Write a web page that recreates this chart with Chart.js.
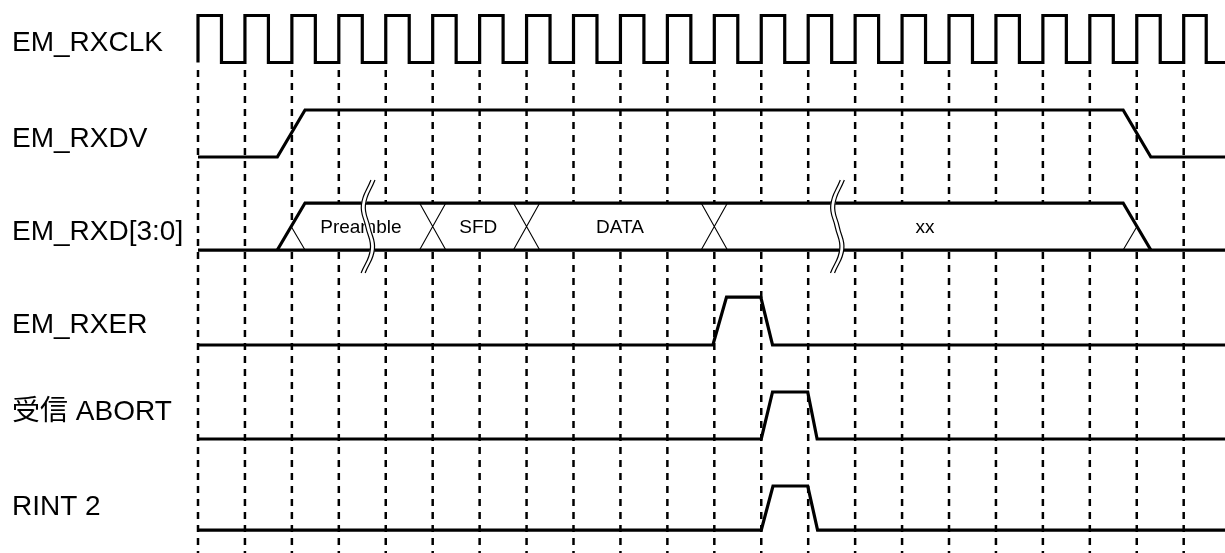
<!DOCTYPE html>
<html>
<head>
<meta charset="utf-8">
<script src="https://cdn.jsdelivr.net/npm/chart.js@4.4.0/dist/chart.umd.min.js"></script>
<style>
html, body { margin: 0; padding: 0; background: #fff; }
#wrap { width: 1225px; height: 553px; }
</style>
</head>
<body>
<div id="wrap"><canvas id="myChart"></canvas></div>
<script>
// signal names, top to bottom
var signalNames = ['EM_RXCLK', 'EM_RXDV', 'EM_RXD[3:0]', 'EM_RXER', '受信 ABORT', 'RINT 2'];

// time is in clock periods, counted from the first rising edge of EM_RXCLK
var clkRise = [0, 1, 2, 3, 4, 5, 6, 7, 8, 9, 10, 11, 12, 13, 14, 15, 16, 17, 18, 19, 20, 21];
var clkFall = [0.5, 1.5, 2.5, 3.5, 4.5, 5.5, 6.5, 7.5, 8.5, 9.5, 10.5, 11.5, 12.5, 13.5, 14.5, 15.5, 16.5, 17.5, 18.5, 19.5, 20.5, 21.48];
var endTime = 21.88;

var rxdvTime = [0, 1.69, 2.28, 19.71, 20.3, endTime];
var rxdvLevel = [0, 0, 1, 1, 0, 0];

var rxdTime = [1.69, 2.28, 19.71, 20.3];
var rxdLevel = [0, 1, 1, 0];
var rxdCross = [5, 7, 11];
var rxdText = ['Preamble', 'SFD', 'DATA', 'xx'];
var rxdTextTime = [3.47, 5.97, 8.99, 15.49];
var rxdBreak = [3.62, 13.62];

var rxerTime = [0, 10.97, 11.26, 11.99, 12.24, endTime];
var rxerLevel = [0, 0, 1, 1, 0, 0];

var abortTime = [0, 12, 12.24, 12.99, 13.19, endTime];
var abortLevel = [0, 0, 1, 1, 0, 0];

var rintTime = [0, 12, 12.25, 12.99, 13.2, endTime];
var rintLevel = [0, 0, 1, 1, 0, 0];

// layout (in level units)
var rowBase = [0, -2.01, -3.99, -6.01, -8.01, -9.95];
var rowHeight = [1, 1, 1, 1.02, 1, 0.94];
var labelLift = [0.4, 0.38, 0.38, 0.42, 0.57, 0.49];
var yMax = 1.33, yMin = -10.436;
var dashTop = -0.16;
var crossHalf = 0.28;
var breakDx = [0.107, -0.096, 0, 0.096, -0.102];
var breakDy = [1.49, 0.96, 0.49, 0.02, -0.49];
var breakGap = 0.043;

function pts(times, levels, row) {
    return times.map(function (t, i) {
        return { x: t, y: rowBase[row] + levels[i] * rowHeight[row] };
    });
}

var clkData = [{ x: 0, y: 0 }];
for (var i = 0; i < clkRise.length; i++) {
    clkData.push({ x: clkRise[i], y: 1 });
    clkData.push({ x: clkFall[i], y: 0 });
}
clkData.push({ x: endTime, y: 0 });

var busLo = rowBase[2], busHi = rowBase[2] + rowHeight[2], busMid = (busLo + busHi) / 2;
var crossData = [];
rxdCross.forEach(function (k) {
    crossData.push({ x: k - crossHalf, y: busHi }, { x: k + crossHalf, y: busLo }, { x: k, y: null });
    crossData.push({ x: k - crossHalf, y: busLo }, { x: k + crossHalf, y: busHi }, { x: k, y: null });
});
crossData.push({ x: (rxdTime[0] + rxdTime[1]) / 2, y: busMid }, { x: rxdTime[1], y: busLo }, { x: rxdTime[1], y: null });
crossData.push({ x: rxdTime[2], y: busLo }, { x: (rxdTime[2] + rxdTime[3]) / 2, y: busMid });

function thick(data, extra) {
    var ds = {
        data: data, borderColor: '#000', borderWidth: 3.2, pointRadius: 0,
        fill: false, clip: false, tension: 0, borderJoinStyle: 'miter', order: 5
    };
    for (var k in extra) ds[k] = extra[k];
    return ds;
}

var datasets = [
    thick(clkData, { stepped: true }),
    thick(pts(rxdvTime, rxdvLevel, 1)),
    thick(pts([0, endTime], [0, 0], 2)),
    thick(pts(rxdTime, rxdLevel, 2), { fill: { value: busLo }, backgroundColor: '#fff' }),
    thick(pts(rxerTime, rxerLevel, 3)),
    thick(pts(abortTime, abortLevel, 4)),
    thick(pts(rintTime, rintLevel, 5)),
    thick(crossData, { borderWidth: 1.1, order: 4 })
];

rxdBreak.forEach(function (b) {
    [[0, '#fff', 4.5, 3], [-breakGap, '#000', 1.2, 2], [breakGap, '#000', 1.2, 2]].forEach(function (s) {
        datasets.push({
            data: breakDx.map(function (dx, i) { return { x: b + dx + s[0], y: busLo + breakDy[i] }; }),
            borderColor: s[1], borderWidth: s[2], order: s[3], pointRadius: 0,
            fill: false, clip: false, tension: 0.45
        });
    });
});

var extras = {
    id: 'extras',
    beforeDraw: function (chart) {
        var ctx = chart.ctx, x = chart.scales.x, y = chart.scales.y;
        var top = y.getPixelForValue(dashTop);
        ctx.save();
        ctx.strokeStyle = '#000';
        ctx.lineWidth = 2.5;
        ctx.setLineDash([7, 6]);
        clkRise.forEach(function (t) {
            var px = x.getPixelForValue(t);
            ctx.beginPath();
            ctx.moveTo(px, top);
            ctx.lineTo(px, chart.chartArea.bottom);
            ctx.stroke();
        });
        ctx.restore();
    },
    beforeDatasetsDraw: function (chart) {
        var ctx = chart.ctx, x = chart.scales.x, y = chart.scales.y;
        ctx.save();
        ctx.fillStyle = '#000';
        ctx.font = '19px "Liberation Sans", Arial, sans-serif';
        ctx.textAlign = 'center';
        ctx.textBaseline = 'middle';
        rxdText.forEach(function (txt, i) {
            ctx.fillText(txt, x.getPixelForValue(rxdTextTime[i]), y.getPixelForValue(busMid) + 1);
        });
        ctx.restore();
    }
};

var ctx = document.getElementById('myChart').getContext('2d');
var myChart = new Chart(ctx, {
    type: 'line',
    data: { datasets: datasets },
    options: {
        responsive: true,
        maintainAspectRatio: false,
        animation: false,
        events: [],
        layout: { padding: { left: 12, top: 0, right: 0, bottom: 0 } },
        plugins: {
            legend: { display: false },
            tooltip: { enabled: false },
            filler: { drawTime: 'beforeDatasetsDraw' }
        },
        scales: {
            x: { type: 'linear', display: false, min: 0, max: endTime },
            y: {
                type: 'linear', min: yMin, max: yMax, bounds: 'data',
                grid: { display: false },
                border: { display: false },
                ticks: {
                    autoSkip: false,
                    crossAlign: 'far',
                    color: '#000',
                    font: { family: '"Liberation Sans", Arial, "Noto Sans CJK JP", sans-serif', size: 28 },
                    callback: function (v, i) { return signalNames[i]; }
                },
                afterBuildTicks: function (axis) {
                    axis.ticks = signalNames.map(function (n, i) { return { value: rowBase[i] + labelLift[i] }; });
                },
                afterFit: function (axis) {
                    axis.width = 186;
                    axis.paddingTop = 0;
                    axis.paddingBottom = 0;
                }
            }
        }
    },
    plugins: [extras]
});
</script>
</body>
</html>
